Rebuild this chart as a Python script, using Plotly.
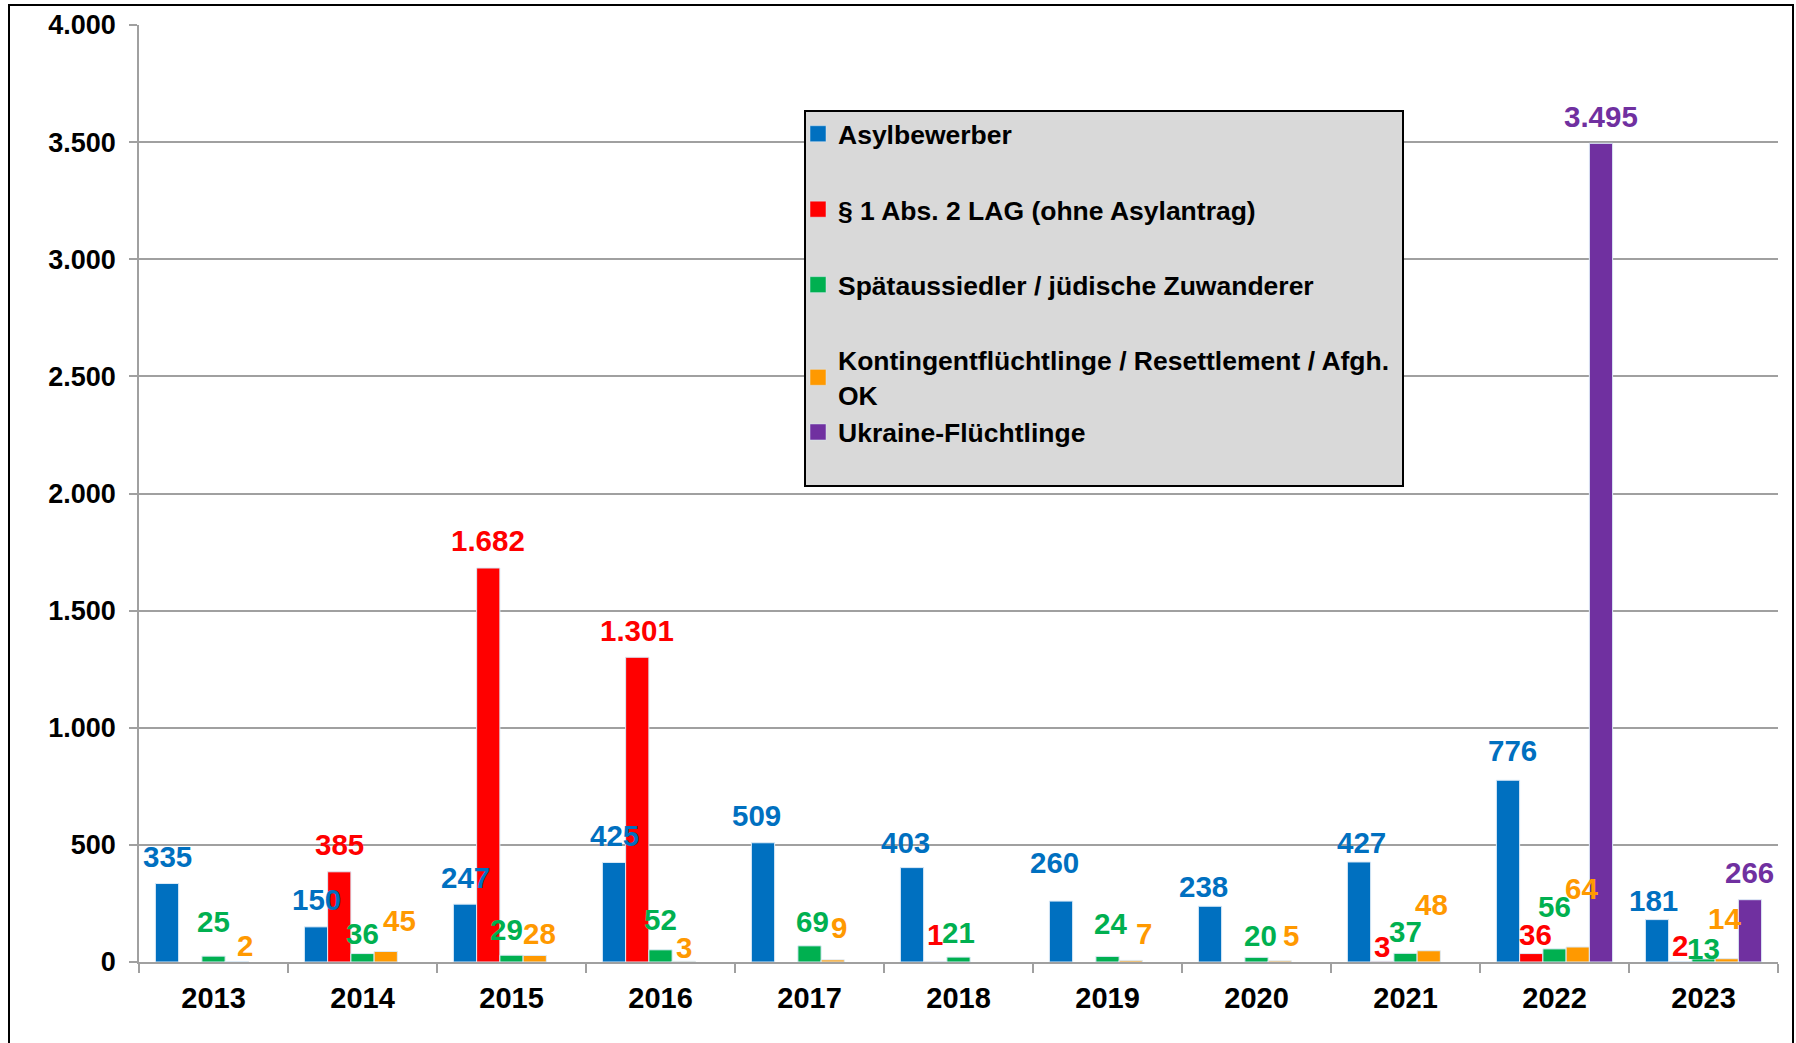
import plotly.graph_objects as go

years = ["2013", "2014", "2015", "2016", "2017", "2018", "2019", "2020", "2021", "2022", "2023"]
asyl = [335, 150, 247, 425, 509, 403, 260, 238, 427, 776, 181]
lag = [None, 385, 1682, 1301, None, 1, None, None, 3, 36, 2]
spaet = [25, 36, 29, 52, 69, 21, 24, 20, 37, 56, 13]
kontingent = [2, 45, 28, 3, 9, None, 7, 5, 48, 64, 14]
ukraine = [None, None, None, None, None, None, None, None, None, 3495, 266]

series_names = [
    "Asylbewerber",
    "§ 1 Abs. 2 LAG (ohne Asylantrag)",
    "Spätaussiedler / jüdische Zuwanderer",
    "Kontingentflüchtlinge / Resettlement / Afgh.<br>OK",
    "Ukraine-Flüchtlinge",
]
series_values = [asyl, lag, spaet, kontingent, ukraine]
colors = ["#0070C0", "#FF0000", "#00B050", "#FF9900", "#7030A0"]
groups = ["g1", "g2", "g3", "g4", "g4"]

# label placement style (pixel nudges: dx, yshift), default (0, 27)
LABEL_NUDGE = {
    (3, "2013"): (8, 16), (2, "2013"): (0, 35),
    (2, "2014"): (0, 20), (3, "2014"): (14, 31),
    (2, "2015"): (-5, 26), (3, "2015"): (5, 22),
    (2, "2016"): (0, 30), (3, "2016"): (0, 14),
    (0, "2017"): (-7, 27), (2, "2017"): (3, 24), (3, "2017"): (6, 32),
    (0, "2018"): (-7, 25), (2, "2018"): (0, 25),
    (0, "2019"): (-7, 39), (2, "2019"): (3, 33), (3, "2019"): (13, 27),
    (0, "2020"): (-7, 20), (2, "2020"): (4, 22), (3, "2020"): (11, 25),
    (0, "2021"): (2, 19), (1, "2021"): (0, 15), (2, "2021"): (0, 22), (3, "2021"): (3, 46),
    (0, "2022"): (4, 30), (1, "2022"): (4, 19), (2, "2022"): (0, 42), (3, "2022"): (4, 59),
    (0, "2023"): (-4, 19), (1, "2023"): (0, 16), (2, "2023"): (0, 10), (3, "2023"): (-2, 40),
}

W, H = 1796, 1043
ML, MR, MT, MB = 139, 18, 25, 81
PW, PH = W - ML - MR, H - MT - MB
BARGAP = 0.22
FONT = "Liberation Sans, Arial, sans-serif"


def px_x(sx):
    return (sx - ML) / PW


def px_y(sy):
    return (H - MB - sy) / PH


def fmt(v):
    return f"{v:,}".replace(",", ".")


fig = go.Figure()
for name, vals, col in zip(series_names, series_values, colors):
    fig.add_trace(go.Bar(
        x=years, y=vals, name=name, marker_color=col,
        marker_line=dict(color="#DDEBF7", width=1),
        showlegend=False,
    ))
# legend entries (square swatches)
for name, col, grp in zip(series_names, colors, groups):
    fig.add_trace(go.Scatter(
        x=[None], y=[None], mode="markers", name=name, legendgroup=grp,
        marker=dict(symbol="square", size=17, color=col,
                    line=dict(color="#DDEBF7", width=0.5)),
    ))

slot_px = PW / len(years) * (1 - BARGAP) / len(series_values)
annotations = []
for i, (vals, col) in enumerate(zip(series_values, colors)):
    for j, v in enumerate(vals):
        if v is None:
            continue
        dx, ys = LABEL_NUDGE.get((i, years[j]), (0, 27))
        annotations.append(dict(
            x=j, y=v, xref="x", yref="y", text=fmt(v), showarrow=False,
            xshift=(i - 2) * slot_px + dx, yshift=ys, yanchor="middle",
            font=dict(family=FONT, size=29.5, color=col, weight="bold"),
        ))

shapes = [
    # legend box
    dict(type="rect", xref="paper", yref="paper",
         x0=px_x(805), x1=px_x(1403), y0=px_y(486), y1=px_y(111),
         fillcolor="#D9D9D9", line=dict(color="black", width=2), layer="above"),
    # outer chart border
    dict(type="rect", xref="paper", yref="paper",
         x0=px_x(9), x1=px_x(1793), y0=px_y(1050), y1=px_y(5),
         fillcolor="rgba(0,0,0,0)", line=dict(color="black", width=2)),
]

fig.update_layout(
    width=W, height=H,
    margin=dict(l=ML, r=MR, t=MT, b=MB, autoexpand=False),
    paper_bgcolor="white", plot_bgcolor="white",
    barmode="group", bargap=BARGAP, bargroupgap=0,
    separators=",.",
    showlegend=True,
    legend=dict(
        x=px_x(798), y=px_y(110), xanchor="left", yanchor="top",
        bgcolor="rgba(0,0,0,0)", borderwidth=0,
        font=dict(family=FONT, size=26.5, color="black", weight="bold"),
        tracegroupgap=38, traceorder="grouped", itemsizing="trace",
    ),
    annotations=annotations,
    shapes=shapes,
    xaxis=dict(
        type="category", range=[-0.5, len(years) - 0.5], automargin=False,
        tickson="boundaries", ticks="outside", ticklen=9,
        tickcolor="#A0A0A0", tickwidth=1.5,
        showline=True, linecolor="#A0A0A0", linewidth=1.5,
        showgrid=False, ticklabelstandoff=9,
        tickfont=dict(family=FONT, size=29, color="black", weight="bold"),
    ),
    yaxis=dict(
        range=[0, 4000], dtick=500, tickformat=",d", automargin=False,
        ticks="outside", ticklen=8, tickcolor="#A0A0A0", tickwidth=1.5,
        showline=True, linecolor="#A0A0A0", linewidth=1.5,
        showgrid=True, gridcolor="#A0A0A0", gridwidth=1.5,
        zeroline=False, ticklabelstandoff=8,
        tickfont=dict(family=FONT, size=27, color="black", weight="bold"),
    ),
)

fig.write_html(
    "out.html",
    config={"displayModeBar": False},
    post_script="document.body.style.margin='0';document.body.style.overflow='hidden';",
)
